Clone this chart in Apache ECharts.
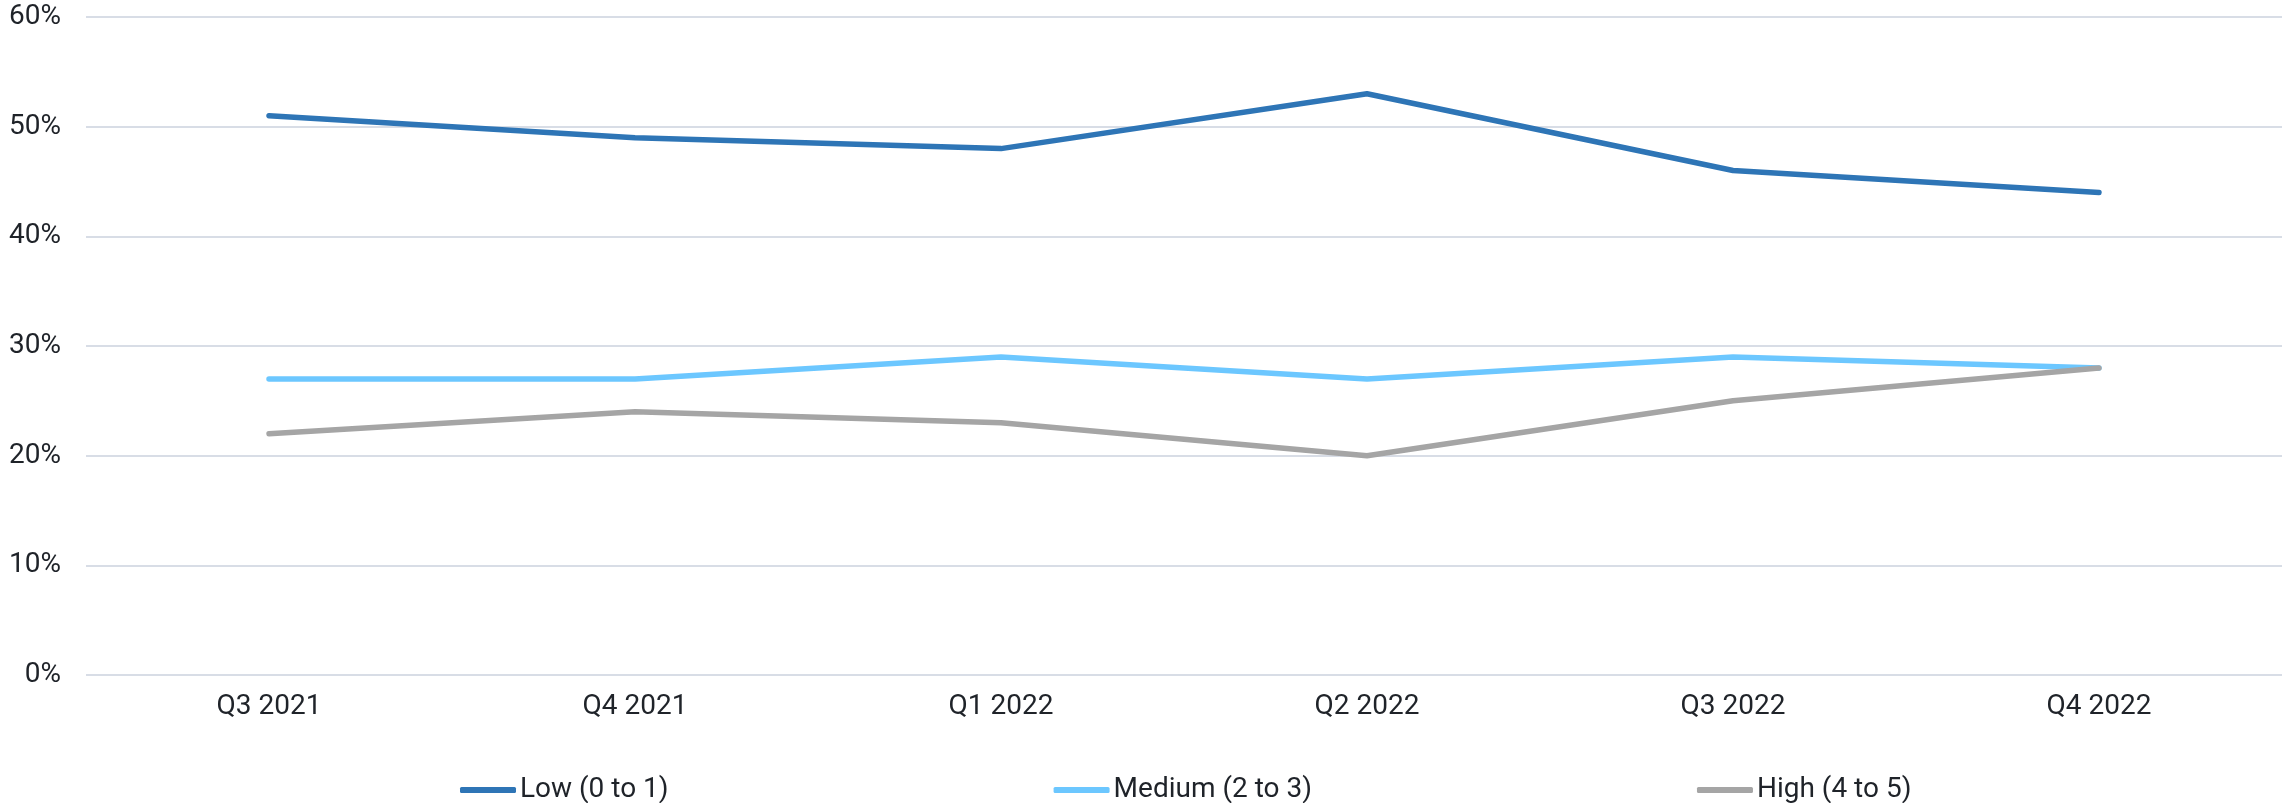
<!DOCTYPE html>
<html>
<head>
<meta charset="utf-8">
<script src="https://cdn.jsdelivr.net/npm/echarts@6/dist/echarts.min.js"></script>
<style>
  html, body { margin: 0; padding: 0; background: #ffffff; }
  #chart { width: 2282px; height: 803px; }
</style>
</head>
<body>
<div id="chart"></div>
<script>
// Quarters along the horizontal axis
const quarters = ['Q3 2021', 'Q4 2021', 'Q1 2022', 'Q2 2022', 'Q3 2022', 'Q4 2022'];

// Share of respondents per group, in percent
const lowValues = [51, 49, 48, 53, 46, 44];
const mediumValues = [27, 27, 29, 27, 29, 28];
const highValues = [22, 24, 23, 20, 25, 28];

const seriesNames = ['Low (0 to 1)', 'Medium (2 to 3)', 'High (4 to 5)'];
const seriesColors = ['#2e75b6', '#6cc7ff', '#a5a5a5'];

const textColor = '#1f2329';
const gridColor = '#d8dde6';
const fontFamily = 'Roboto, "Noto Sans", sans-serif';

function lineSeries(name, data, color) {
  return {
    name: name,
    type: 'line',
    data: data,
    showSymbol: false,
    symbol: 'none',
    smooth: false,
    lineStyle: { color: color, width: 5.5, cap: 'round', join: 'round' },
    itemStyle: { color: color },
    emphasis: { disabled: true }
  };
}

const chart = echarts.init(document.getElementById('chart'), null, { renderer: 'canvas' });

chart.setOption({
  animation: false,
  backgroundColor: '#ffffff',
  textStyle: { fontFamily: fontFamily },
  grid: { left: 86, right: 0, top: 17, bottom: 128, containLabel: false },
  legend: {
    left: 455,
    top: 771,
    icon: 'roundRect',
    itemWidth: 56,
    itemHeight: 6,
    itemGap: 385,
    textStyle: { color: textColor, fontSize: 28, fontFamily: fontFamily, padding: [0, 0, 0, -1] },
    data: seriesNames
  },
  xAxis: {
    type: 'category',
    data: quarters,
    boundaryGap: true,
    axisLine: { show: false },
    axisTick: { show: false },
    axisLabel: { color: textColor, fontSize: 28, margin: 18, fontFamily: fontFamily }
  },
  yAxis: {
    type: 'value',
    min: 0,
    max: 60,
    interval: 10,
    axisLine: { show: false },
    axisTick: { show: false },
    axisLabel: {
      color: textColor,
      fontSize: 28,
      margin: 25,
      fontFamily: fontFamily,
      formatter: '{value}%'
    },
    splitLine: { lineStyle: { color: gridColor, width: 2 } }
  },
  series: [
    lineSeries(seriesNames[0], lowValues, seriesColors[0]),
    lineSeries(seriesNames[1], mediumValues, seriesColors[1]),
    lineSeries(seriesNames[2], highValues, seriesColors[2])
  ]
});
</script>
</body>
</html>
